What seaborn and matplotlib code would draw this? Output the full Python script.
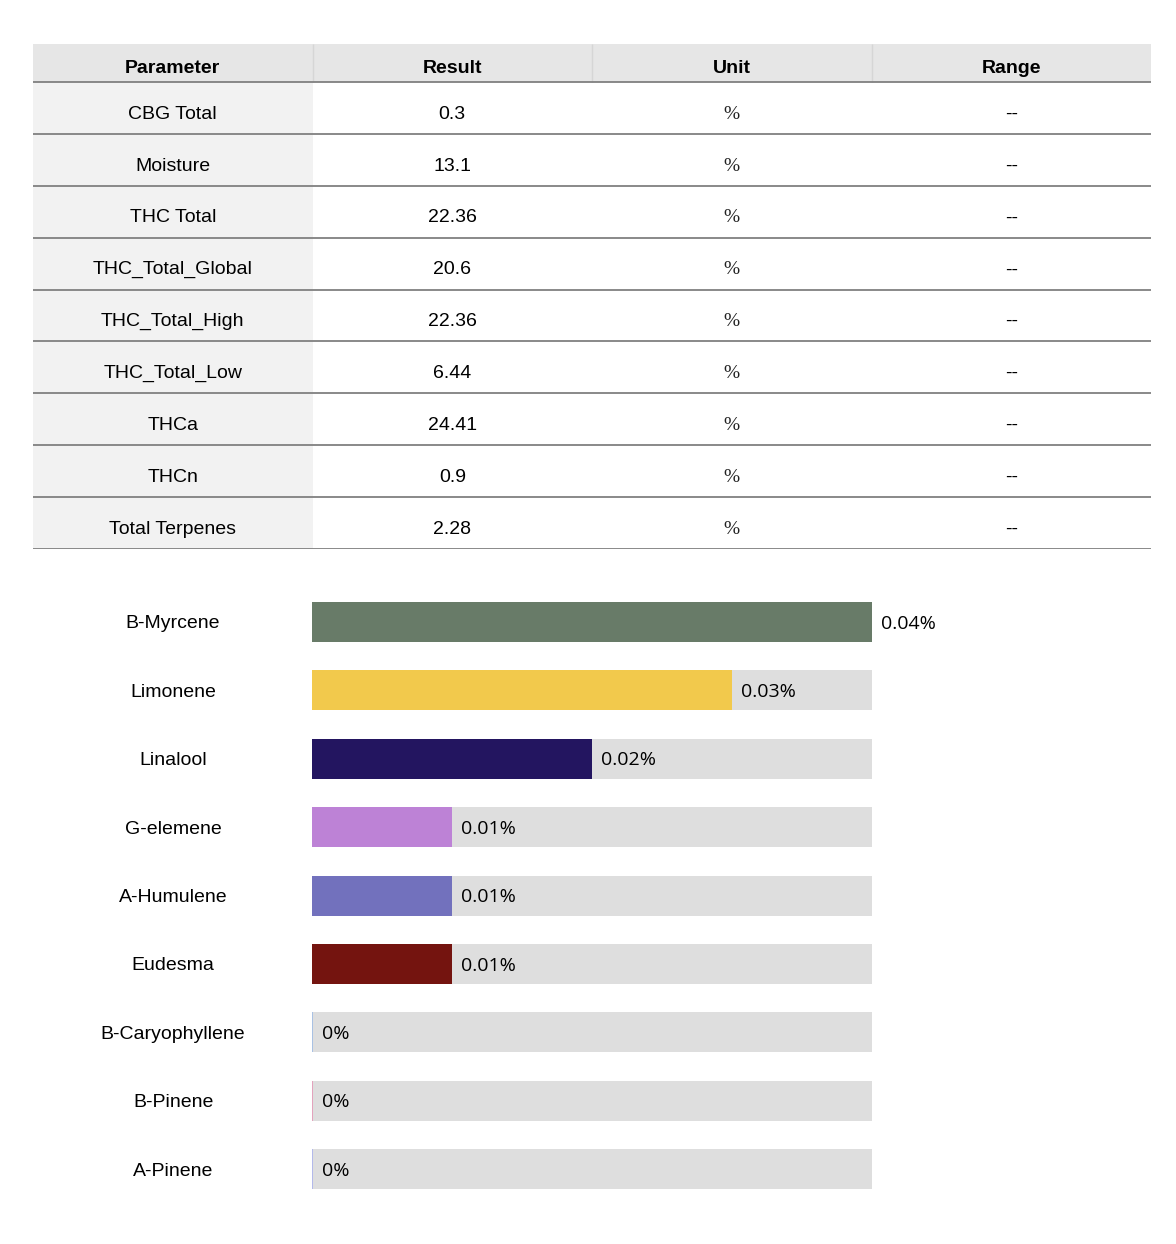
import matplotlib.pyplot as plt
import seaborn as sns
import pandas as pd
import numpy as np
from matplotlib.patches import Rectangle

# table data
params = ['CBG Total', 'Moisture', 'THC Total', 'THC_Total_Global', 'THC_Total_High',
          'THC_Total_Low', 'THCa', 'THCn', 'Total Terpenes']
results = ['0.3', '13.1', '22.36', '20.6', '22.36', '6.44', '24.41', '0.9', '2.28']
units = ['%'] * 9
ranges = ['--'] * 9
headers = ['Parameter', 'Result', 'Unit', 'Range']

# terpene data (percent)
terpenes = ['B-Myrcene', 'Limonene', 'Linalool', 'G-elemene', 'A-Humulene', 'Eudesma',
            'B-Caryophyllene', 'B-Pinene', 'A-Pinene']
terp_values = [0.04, 0.03, 0.02, 0.01, 0.01, 0.01, 0.0001, 0.0001, 0.0001]
terp_colors = ['#687b68', '#f2c94c', '#231560', '#bd82d6', '#7271bd', '#74140f',
               '#a9c1e3', '#e3a3bd', '#b3b9ea']

sns.set_theme(style="white")
plt.rcParams['font.family'] = ['Liberation Sans', 'DejaVu Sans']

W, H = 1176, 1244
fig = plt.figure(figsize=(W / 100, H / 100), dpi=100)

# ---- table ----
df = pd.DataFrame({'Parameter': params, 'Result': results, 'Unit': units, 'Range': ranges})
ax_t = fig.add_axes([33 / W, 1 - 549 / H, 1118 / W, 505 / H])
hdr = 38 / 51.9
ax_t.set_xlim(0, 4)
ax_t.set_ylim(len(df), -hdr)
ax_t.axis('off')

ax_t.add_patch(Rectangle((0, -hdr), 4, hdr, fc='#e6e6e6', ec='none'))
ax_t.add_patch(Rectangle((0, 0), 1, len(df), fc='#f2f2f2', ec='none'))
ax_t.vlines([1, 2, 3], -hdr, 0, color='#d6d6d6', lw=1)
ax_t.hlines(np.arange(0, len(df) + 1), 0, 4, color='#808080', lw=1.3)

for j, h in enumerate(headers):
    ax_t.text(j + 0.5, -hdr / 2 + 0.11, h, ha='center', va='center', fontsize=14,
              fontweight='bold', color='black')

for i, row in df.iterrows():
    y = i + 0.5 + 0.12
    ax_t.text(0.5, y, row['Parameter'], ha='center', va='center', fontsize=14, color='black')
    ax_t.text(1.5, y, row['Result'], ha='center', va='center', fontsize=14, color='black')
    ax_t.text(2.5, y, row['Unit'], ha='center', va='center', fontsize=14, color='#222222',
              family=['Liberation Serif', 'DejaVu Serif'])
    ax_t.text(3.5, y, row['Range'], ha='center', va='center', fontsize=14, color='black')

# ---- terpene bars ----
tdf = pd.DataFrame({'terpene': terpenes, 'value': terp_values})
tdf['track'] = max(terp_values)
step = (1169 - 622) / 8
top = 622 - step / 2
bot = 1169 + step / 2
ax_b = fig.add_axes([312 / W, 1 - bot / H, 560 / W, (bot - top) / H])

bw = 40 / step
sns.barplot(data=tdf, x='track', y='terpene', color='#dedede', width=bw,
            saturation=1, linewidth=0, ax=ax_b)
sns.barplot(data=tdf, x='value', y='terpene', hue='terpene', palette=terp_colors,
            width=bw, saturation=1, linewidth=0, legend=False, ax=ax_b)

ax_b.set_xlim(0, max(terp_values))
ax_b.set_ylim(len(tdf) - 0.5, -0.5)
ax_b.set_xlabel('')
ax_b.set_ylabel('')
ax_b.set_xticks([])
sns.despine(ax=ax_b, left=True, bottom=True)
ax_b.tick_params(axis='y', length=0, pad=100)
for lab in ax_b.get_yticklabels():
    lab.set_ha('center')
    lab.set_fontsize(14)
    lab.set_color('black')

for i, v in enumerate(terp_values):
    txt = f"{v:.2f}".rstrip('0').rstrip('.') + '%'
    ax_b.annotate(txt, (v, i), xytext=(6.5, -1.2), textcoords='offset points',
                  ha='left', va='center', fontsize=14, color='black',
                  family=['Open Sans', 'DejaVu Sans'])

fig.savefig('out.png', dpi=100, facecolor='white')
